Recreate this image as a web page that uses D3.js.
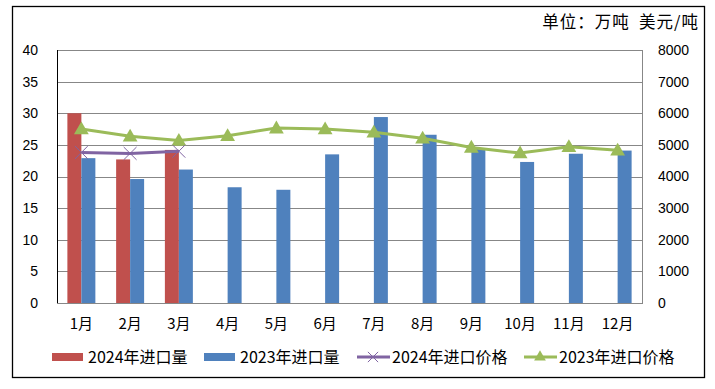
<!DOCTYPE html>
<meta charset="utf-8">
<style>
body { margin: 0; background: #fff; }
text { font-family: "Noto Sans CJK SC", "Liberation Sans", sans-serif; fill: #000; }
</style>
<body>
<script src="https://d3js.org/d3.v7.min.js"></script>
<script>

// data
var months = ["1月", "2月", "3月", "4月", "5月", "6月", "7月", "8月", "9月", "10月", "11月", "12月"];
var vol2024 = [30.0, 22.7, 24.2, null, null, null, null, null, null, null, null, null];
var vol2023 = [22.9, 19.6, 21.1, 18.3, 17.9, 23.5, 29.4, 26.6, 24.5, 22.3, 23.6, 24.1];
var price2024 = [4760, 4730, 4800, null, null, null, null, null, null, null, null, null];
var price2023 = [5500, 5270, 5140, 5290, 5530, 5500, 5400, 5210, 4920, 4740, 4940, 4830];
var leftTicks = [0, 5, 10, 15, 20, 25, 30, 35, 40];
var rightTicks = [0, 1000, 2000, 3000, 4000, 5000, 6000, 7000, 8000];

var W = 715, H = 389;
var margin = {top: 50, right: 73, bottom: 86, left: 57};
var width = W - margin.left - margin.right,
    height = H - margin.top - margin.bottom;

var svg = d3.select("body").append("svg")
    .attr("width", W)
    .attr("height", H);

// outer frame
svg.append("rect")
    .attr("x", 12.5).attr("y", 6.5)
    .attr("width", 692).attr("height", 371)
    .attr("fill", "none").attr("stroke", "#000").attr("stroke-width", 1.3);

svg.append("text")
    .attr("x", 699).attr("y", 28)
    .attr("text-anchor", "end")
    .style("font-size", "16.5px")
    .style("letter-spacing", "1px")
    .style("white-space", "pre")
    .text("单位：万吨  美元/吨");

var g = svg.append("g")
    .attr("transform", "translate(" + margin.left + "," + margin.top + ")");

var x = d3.scaleBand().domain(months).range([0, width]).paddingInner(0).paddingOuter(0);
var xs = d3.scaleBand().domain(["a", "b"]).range([x.bandwidth() * 0.213, x.bandwidth() * 0.787]);
var y = d3.scaleLinear().domain([0, 40]).range([height, 0]);
var y2 = d3.scaleLinear().domain([0, 8000]).range([height, 0]);

// gridlines
g.append("g")
    .call(d3.axisLeft(y).tickValues(leftTicks).tickSize(-width).tickFormat(""))
    .call(function(s) { s.select(".domain").remove(); })
    .selectAll("line").attr("stroke", "#878787").attr("shape-rendering", "crispEdges");

// plot border
g.append("rect")
    .attr("width", width).attr("height", height)
    .attr("fill", "none").attr("stroke", "#878787").attr("shape-rendering", "crispEdges");
g.append("line")
    .attr("x1", 0).attr("x2", 0).attr("y1", 0).attr("y2", height)
    .attr("stroke", "#000").attr("shape-rendering", "crispEdges");

// bars
g.selectAll(".b24").data(vol2024).enter().filter(function(d) { return d != null; })
  .append("rect")
    .attr("x", function(d, i) { return x(months[i]) + xs("a"); })
    .attr("width", xs.bandwidth())
    .attr("y", function(d) { return y(d); })
    .attr("height", function(d) { return height - y(d); })
    .attr("fill", "#C0504D");

g.selectAll(".b23").data(vol2023).enter()
  .append("rect")
    .attr("x", function(d, i) { return x(months[i]) + xs("b"); })
    .attr("width", xs.bandwidth())
    .attr("y", function(d) { return y(d); })
    .attr("height", function(d) { return height - y(d); })
    .attr("fill", "#4F81BD");

// lines
var cx = function(i) { return x(months[i]) + x.bandwidth() / 2; };
var line = d3.line()
    .defined(function(d) { return d != null; })
    .x(function(d, i) { return cx(i); })
    .y(function(d) { return y2(d); });

g.append("path").datum(price2023)
    .attr("d", line).attr("fill", "none")
    .attr("stroke", "#9BBB59").attr("stroke-width", 3);

g.append("path").datum(price2024)
    .attr("d", line).attr("fill", "none")
    .attr("stroke", "#8064A2").attr("stroke-width", 3);

var tri = d3.symbol().type(d3.symbolTriangle).size(95);
g.selectAll(".t23").data(price2023).enter().append("path")
    .attr("d", tri)
    .attr("transform", function(d, i) { return "translate(" + cx(i) + "," + (y2(d) + 1) + ")"; })
    .attr("fill", "#9BBB59");

var cross = d3.symbol().type(d3.symbolX).size(110);
price2024.forEach(function(d, i) {
  if (d == null) return;
  g.append("path")
      .attr("d", cross())
      .attr("transform", "translate(" + cx(i) + "," + y2(d) + ")")
      .attr("fill", "none")
      .attr("stroke", "#8064A2").attr("stroke-width", 1);
});

// bottom axis line
g.append("line")
    .attr("x1", 0).attr("x2", width).attr("y1", height).attr("y2", height)
    .attr("stroke", "#878787").attr("shape-rendering", "crispEdges");

// axis labels
var ay = g.append("g").call(d3.axisLeft(y).tickValues(leftTicks).tickSize(0).tickPadding(19));
ay.select(".domain").remove();
ay.selectAll("text").style("font-size", "14px").style("font-family", "'Liberation Sans', sans-serif");

var ay2 = g.append("g").attr("transform", "translate(" + width + ",0)")
    .call(d3.axisRight(y2).tickValues(rightTicks).tickFormat(d3.format("d")).tickSize(0).tickPadding(16));
ay2.select(".domain").remove();
ay2.selectAll("text").style("font-size", "14px").style("font-family", "'Liberation Sans', sans-serif");

var ax = g.append("g").attr("transform", "translate(0," + height + ")")
    .call(d3.axisBottom(x).tickSize(0).tickPadding(15));
ax.select(".domain").remove();
ax.selectAll("text").style("font-size", "15px");

// legend
var legend = svg.append("g").attr("transform", "translate(0,357)");
var items = [
  {name: "2024年进口量", type: "bar", color: "#C0504D", x: 52},
  {name: "2023年进口量", type: "bar", color: "#4F81BD", x: 204},
  {name: "2024年进口价格", type: "x", color: "#8064A2", x: 357},
  {name: "2023年进口价格", type: "tri", color: "#9BBB59", x: 524}
];
items.forEach(function(d, i) {
  var gi = legend.append("g");
  if (d.type == "bar") {
    gi.append("rect").attr("x", d.x).attr("y", -4).attr("width", 31).attr("height", 8).attr("fill", d.color);
  } else {
    gi.append("line").attr("x1", d.x).attr("x2", d.x + 33).attr("y1", 0).attr("y2", 0)
        .attr("stroke", d.color).attr("stroke-width", 3);
    if (d.type == "x") {
      gi.append("path").attr("d", d3.symbol().type(d3.symbolX).size(70)())
          .attr("transform", "translate(" + (d.x + 16) + ",0)")
          .attr("fill", "none").attr("stroke", d.color);
    } else {
      gi.append("path").attr("d", d3.symbol().type(d3.symbolTriangle).size(60)())
          .attr("transform", "translate(" + (d.x + 16) + ",0)")
          .attr("fill", d.color);
    }
  }
  gi.append("text").attr("x", d.x + (d.type == "bar" ? 36 : 35)).attr("y", 0).attr("dy", "0.35em")
      .style("font-size", "16px").text(d.name);
});

</script>
</body>
